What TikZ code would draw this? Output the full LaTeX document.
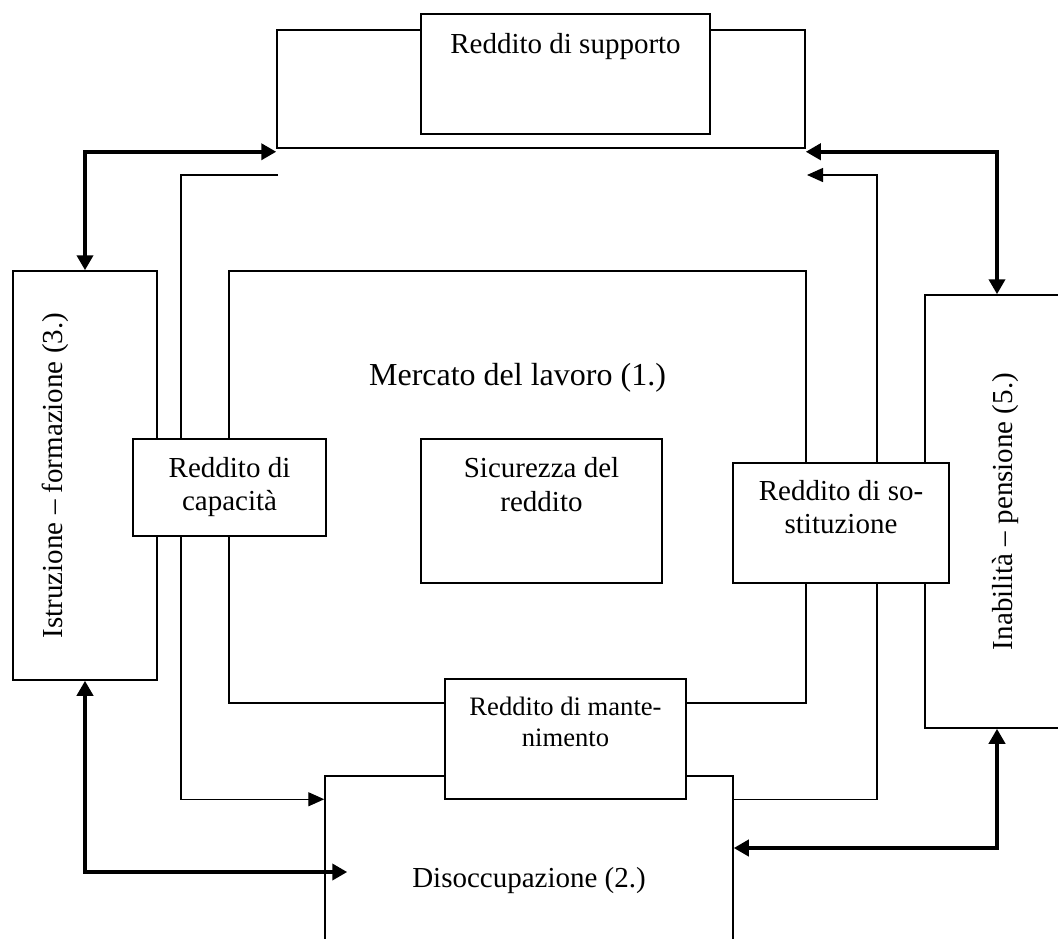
\documentclass[tikz,border=0pt]{standalone}
\usepackage{fontspec}
\setmainfont{Liberation Serif}
\usetikzlibrary{arrows.meta}

\begin{document}
\begin{tikzpicture}[x=0.5pt,y=-0.5pt,line width=0.75pt,
    box/.style={draw,fill=white,inner sep=0pt,align=center,font=\fontsize{14.5}{16.75}\selectfont},
    link/.style={line width=0.7pt,-{Triangle[length=8pt,width=7pt]}},
    bigarrow/.style={line width=2pt,{Triangle[length=7.5pt,width=8pt]}-{Triangle[length=7.5pt,width=8pt]}}]
        \useasboundingbox (0,0) rectangle (1058,938);
        \clip (0,0) rectangle (1058,938);
        \draw (541,89) node[draw,minimum width=264pt,minimum height=59pt] (frame) {};
        \draw (565.5,74) node[box,minimum width=144.5pt,text height=19.5pt,text depth=40.5pt] (supporto) {Reddito di supporto};
        \draw (85,475.5) node[box,rotate=90,minimum width=204.5pt,text height=24.5pt,text depth=47.5pt] (istruzione) {Istruzione – formazione (3.)};
        \draw (1002,511.5) node[box,rotate=90,minimum width=216.5pt,text height=43.5pt,text depth=33.5pt] (inabilita) {Inabilità – pensione (5.)};
        \draw (517.5,487) node[box,minimum width=288.5pt,text height=57pt,text depth=159pt,font=\fontsize{16}{19}\selectfont] (mercato) {Mercato del lavoro (1.)};
        \draw (529,878) node[box,minimum width=204pt,text height=55.5pt,text depth=46.5pt] (disoccupazione) {Disoccupazione (2.)};
        \coordinate (lfree) at (278,175);
        \coordinate (lbend) at (181,175);
        \coordinate (rbend) at (877,175);
        \coordinate (rfree) at (807,175);
        \draw[link] (lfree) -- (lbend) |- ([yshift=-12pt]disoccupazione.north west);
        \draw[link] ([yshift=-12pt]disoccupazione.north east) -| (rbend) -- (rfree);
        \draw (229.5,487.5) node[box,minimum width=96.5pt,text height=35.75pt,text depth=12.75pt] (capacita) {Reddito di\\capacità};
        \draw (541.5,511) node[box,minimum width=120.5pt,text height=36pt,text depth=36pt] (sicurezza) {Sicurezza del\\reddito};
        \draw (841,523) node[box,minimum width=108pt,text height=35.25pt,text depth=24.75pt] (sostituzione) {Reddito di so-\\stituzione};
        \draw (565.5,739) node[box,minimum width=120.5pt,text height=33.5pt,text depth=26.5pt,font=\fontsize{13.3}{15.5}\selectfont] (mantenimento) {Reddito di mante-\\nimento};
        \draw[bigarrow] (istruzione.east) |- ([yshift=-1.5pt]frame.south west);
        \draw[bigarrow] ([xshift=-2.5pt]inabilita.east) |- ([yshift=-1.5pt]frame.south east);
        \draw[bigarrow] (istruzione.west) |- ([xshift=11.5pt,yshift=3pt]disoccupazione.west);
        \draw[bigarrow] ([xshift=-2.5pt]inabilita.west) |- ([yshift=15pt]disoccupazione.east);
\end{tikzpicture}
\end{document}
